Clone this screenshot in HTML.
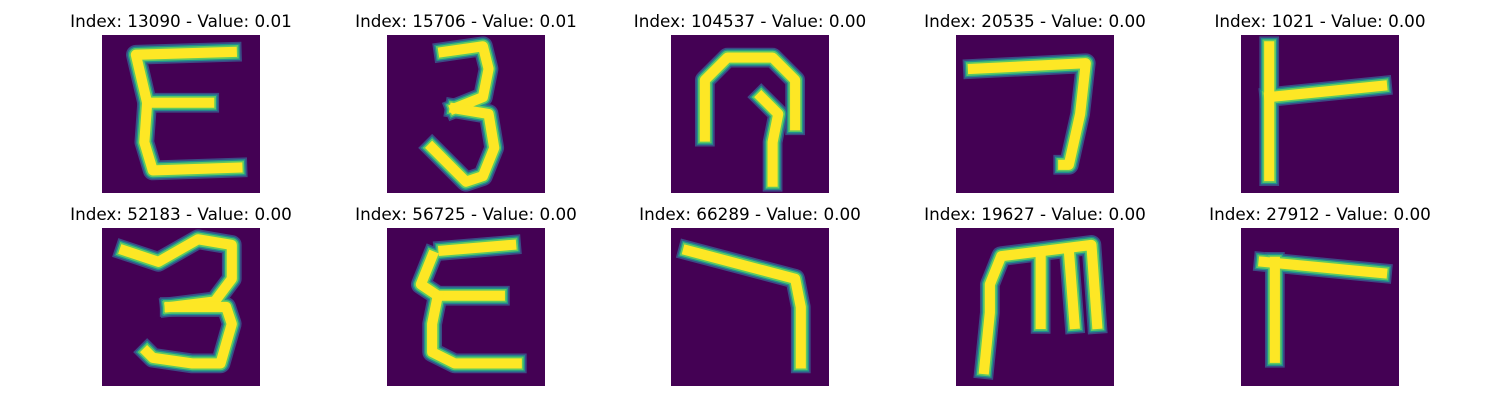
<!DOCTYPE html>
<html><head><meta charset="utf-8"><style>
html,body{margin:0;padding:0;background:#fff;}
svg{display:block;font-family:"DejaVu Sans","Liberation Sans",sans-serif;}
</style></head><body>
<svg id="chart" width="1500" height="400" viewBox="0 0 1500 400" xmlns="http://www.w3.org/2000/svg">
<defs><clipPath id="cp"><rect x="0" y="0" width="28" height="28"/></clipPath></defs>
</svg>
<script>
const indices=[13090,15706,104537,20535,1021,52183,56725,66289,19627,27912];
const values=["0.01","0.01","0.00","0.00","0.00","0.00","0.00","0.00","0.00","0.00"];
const strokes=[
 ["M23,3 L6,3.5 L8,12 L19,12","M8,12 L7.5,19 L9,24 L24,23.5"],
 ["M10,3 L17,2 L18,6 L17,11 L12,13","M12,13 L18,14 L19,20 L17,25 L14,26 L8,20"],
 ["M6,18 L6,8 L10,4 L18,4 L22,8 L22,16","M16,11 L19,14 L18,19 L18,26"],
 ["M3,6 L23,5 L22,14 L20,23 L19,23"],
 ["M5,2 L5,25","M5,11 L25,9"],
 ["M4,4 L10,6 L17,2 L23,3 L23,9 L20,13 L12,14","M12,14 L22,14 L23,17 L21,24 L16,24 L9,23 L8,22"],
 ["M10,4 L22,3","M8,5 L6,10 L9,12 L20,12","M9,12 L8,17 L8,22 L12,24 L23,24"],
 ["M3,4 L22,9 L23,14 L23,24"],
 ["M5,25 L6,15 L6,10 L8,5 L24,3 L25,17","M15,5 L15,17","M20,4 L21,17"],
 ["M4,6 L25,8","M6,6 L6,22 L6,23"]
];
const svg=document.getElementById('chart');
const NS='http://www.w3.org/2000/svg';
const colX=[102,387,671,956,1241], rowY=[35,228], size=158;
for(let i=0;i<indices.length;i++){
  const x=colX[i%5], y=rowY[Math.floor(i/5)];
  const g=document.createElementNS(NS,'g');
  
  
  g.setAttribute('transform',`translate(${x},${y}) scale(${size/28})`);
  const inner=document.createElementNS(NS,'g');
  inner.setAttribute('clip-path','url(#cp)');
  const bg=document.createElementNS(NS,'rect');
  
  
  bg.setAttribute('width',28);bg.setAttribute('height',28);bg.setAttribute('fill','#440154');
  inner.appendChild(bg);
  const layers=[["#3b528b",3.5,0.9],["#21918c",2.9,1],["#5ec962",2.4,1],["#fde725",1.8,1]];
  for(const [c,w,o] of layers){
    for(const d of strokes[i]){
      const p=document.createElementNS(NS,'path');
      
      
      p.setAttribute('d',d);p.setAttribute('fill','none');p.setAttribute('stroke',c);
      p.setAttribute('stroke-width',w);p.setAttribute('stroke-opacity',o);
      p.setAttribute('stroke-linecap','square');p.setAttribute('stroke-linejoin','round');
      inner.appendChild(p);
    }
  }
  g.appendChild(inner);
  svg.appendChild(g);
  const t=document.createElementNS(NS,'text');
  
  
  t.setAttribute('x',x+size/2);t.setAttribute('y',y-8);
  t.setAttribute('text-anchor','middle');t.setAttribute('font-size','16.8');t.setAttribute('fill','#000');
  t.textContent='Index: '+indices[i]+' - Value: '+values[i];
  svg.appendChild(t);
}
</script>
</body></html>
